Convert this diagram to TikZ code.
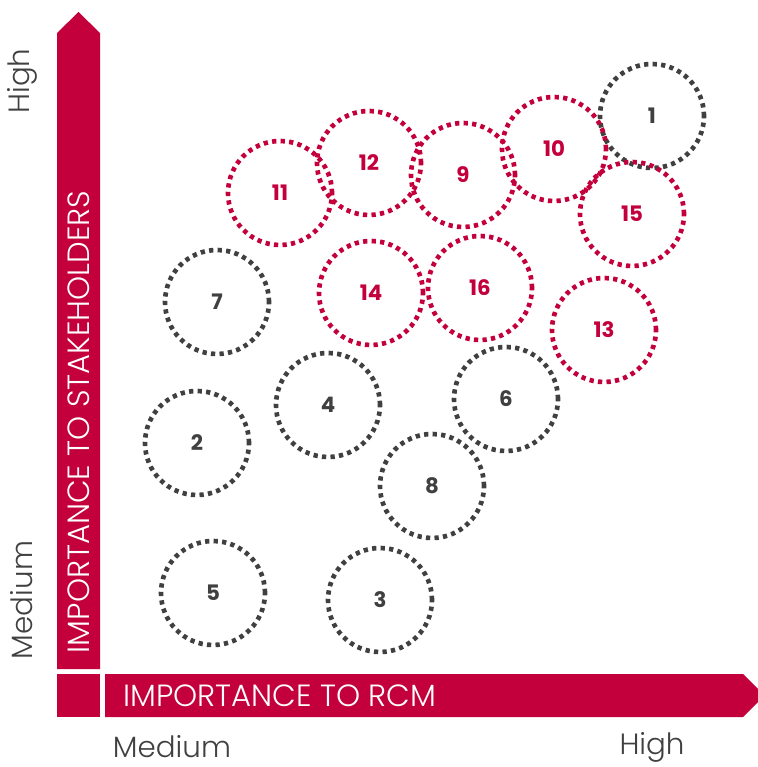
\documentclass[tikz,border=0pt]{standalone}
\usepackage{fontspec}
\setmainfont{Poppins}
\newfontfamily\thinfont{Poppins Light}
\definecolor{rcmred}{RGB}{195,0,60}
\definecolor{dotgrey}{RGB}{64,64,64}
\tikzset{
  bubble/.style={circle, draw, line width=3.5pt, dash pattern=on 3.2pt off 3.2pt,
    minimum size=78pt, inner sep=0pt, font=\fontsize{16}{16}\selectfont\bfseries},
  redbubble/.style={bubble, draw=rcmred, text=rcmred},
  greybubble/.style={bubble, draw=dotgrey, text=dotgrey},
  axistext/.style={text=white, font=\thinfont\fontsize{23}{23}\selectfont},
  levellabel/.style={text=dotgrey, font=\thinfont\fontsize{22}{22}\selectfont}
}
\begin{document}
\begin{tikzpicture}[x=0.75pt, y=-0.75pt]
  \useasboundingbox (0,0) rectangle (757,767);
  % axes as red bars
  \fill[rcmred] (57,669) -- (57,33) -- (78.5,12) -- (100,33) -- (100,669) -- cycle;
  \fill[rcmred] (57,674) rectangle (100,717);
  \fill[rcmred] (105,674) -- (743,674) -- (764.5,695.5) -- (743,717) -- (105,717) -- cycle;
  \node[axistext, rotate=90] (ytitle) at (79,422) {IMPORTANCE TO STAKEHOLDERS};
  \node[axistext] (xtitle) at (280,696) {IMPORTANCE TO RCM};
  % level labels
  \node[levellabel, rotate=90] (yhigh) at (22,81) {High};
  \node[levellabel, rotate=90] (ymed) at (22,600) {Medium};
  \node[levellabel] (xmed) at (172,747) {Medium};
  \node[levellabel] (xhigh) at (652,747) {High};
  % grey bubbles
  \foreach \n/\x/\y in {1/652/116, 7/217/302, 4/328/405, 6/506/399, 2/197/443,
                        8/432/486, 5/213/593, 3/380/600}
    \node[greybubble] (b\n) at (\x,\y) {\n};
  % red bubbles
  \foreach \n/\x/\y in {10/554/149, 15/632/214, 11/280/193, 12/369/163, 9/463/175,
                        14/371/293, 16/480/288, 13/604/330}
    \node[redbubble] (b\n) at (\x,\y) {\n};
\end{tikzpicture}
\end{document}
